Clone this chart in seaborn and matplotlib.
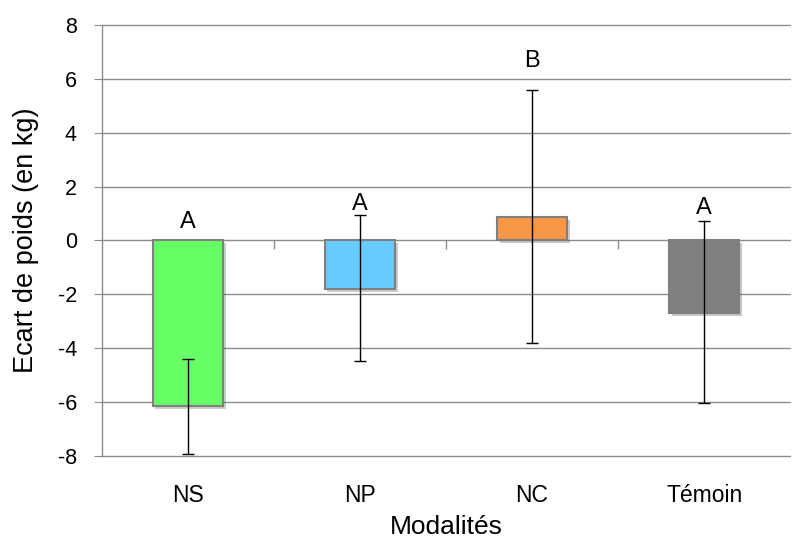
import numpy as np
import pandas as pd
import matplotlib
matplotlib.use("Agg")
import matplotlib.pyplot as plt
import matplotlib.patheffects as pe
import seaborn as sns

# data
modalites = ["NS", "NP", "NC", "Témoin"]
ecart = [-6.14, -1.81, 0.86, -2.68]
err_bas = [-7.90, -4.47, -3.80, -6.01]
err_haut = [-4.39, 0.93, 5.59, 0.74]
lettres = ["A", "A", "B", "A"]
lettre_y = [0.68, 1.35, 6.65, 1.20]
couleurs = ["#66FF66", "#66CCFF", "#F79646", "#808080"]

df = pd.DataFrame({"Modalités": modalites, "ecart": ecart})

sns.set_style("white")
plt.rcParams["font.family"] = ["Liberation Sans", "DejaVu Sans"]
plt.rcParams["axes.unicode_minus"] = False
plt.rcParams["text.color"] = "black"
plt.rcParams["axes.labelcolor"] = "black"
plt.rcParams["xtick.color"] = "black"
plt.rcParams["ytick.color"] = "black"

fig = plt.figure(figsize=(7.95, 5.38), dpi=100)
ax = fig.add_axes([0.128, 0.152, 0.866, 0.802])

sns.barplot(data=df, x="Modalités", y="ecart", hue="Modalités",
            palette=couleurs, saturation=1, width=0.41, errorbar=None, legend=False,
            edgecolor="#7f7f7f", linewidth=1.5, ax=ax, zorder=3)
for p in ax.patches:
    p.set_path_effects([pe.SimplePatchShadow(offset=(2, -2), alpha=0.25), pe.Normal()])

x = np.arange(len(modalites))
m = np.array(ecart)
yerr = [m - np.array(err_bas), np.array(err_haut) - m]
ax.errorbar(x, m, yerr=yerr, fmt="none", ecolor="black", elinewidth=1,
            capsize=4.5, capthick=1, zorder=4)

for xi, lab, ly in zip(x, lettres, lettre_y):
    ax.text(xi, ly, lab, ha="center", va="center", fontsize=17, zorder=5)

ax.set_xlim(-0.5, 3.5)
ax.set_ylim(-8, 8)
ax.set_yticks(range(-8, 9, 2))
ax.yaxis.grid(True, color="#8c8c8c", linewidth=1)
for gl in ax.get_ygridlines():
    gl.set_clip_on(False)
ax.set_axisbelow(True)
for s in ["top", "right", "bottom"]:
    ax.spines[s].set_visible(False)
ax.spines["left"].set_color("#8c8c8c")
ax.spines["left"].set_linewidth(1)

# small tick marks between categories on the zero line
ax.vlines([0.5, 1.5, 2.5], -0.3, 0, color="#8c8c8c", linewidth=1, zorder=2)

ax.tick_params(axis="y", length=6, color="#8c8c8c", labelcolor="black", pad=12, labelsize=15.5, left=True)
ax.tick_params(axis="x", length=0, pad=20, labelsize=16.5)

ax.set_xlabel("Modalités", fontsize=19, labelpad=6)
ax.set_ylabel("Ecart de poids (en kg)", fontsize=19.5, labelpad=13)

fig.savefig("out.png", dpi=100)
